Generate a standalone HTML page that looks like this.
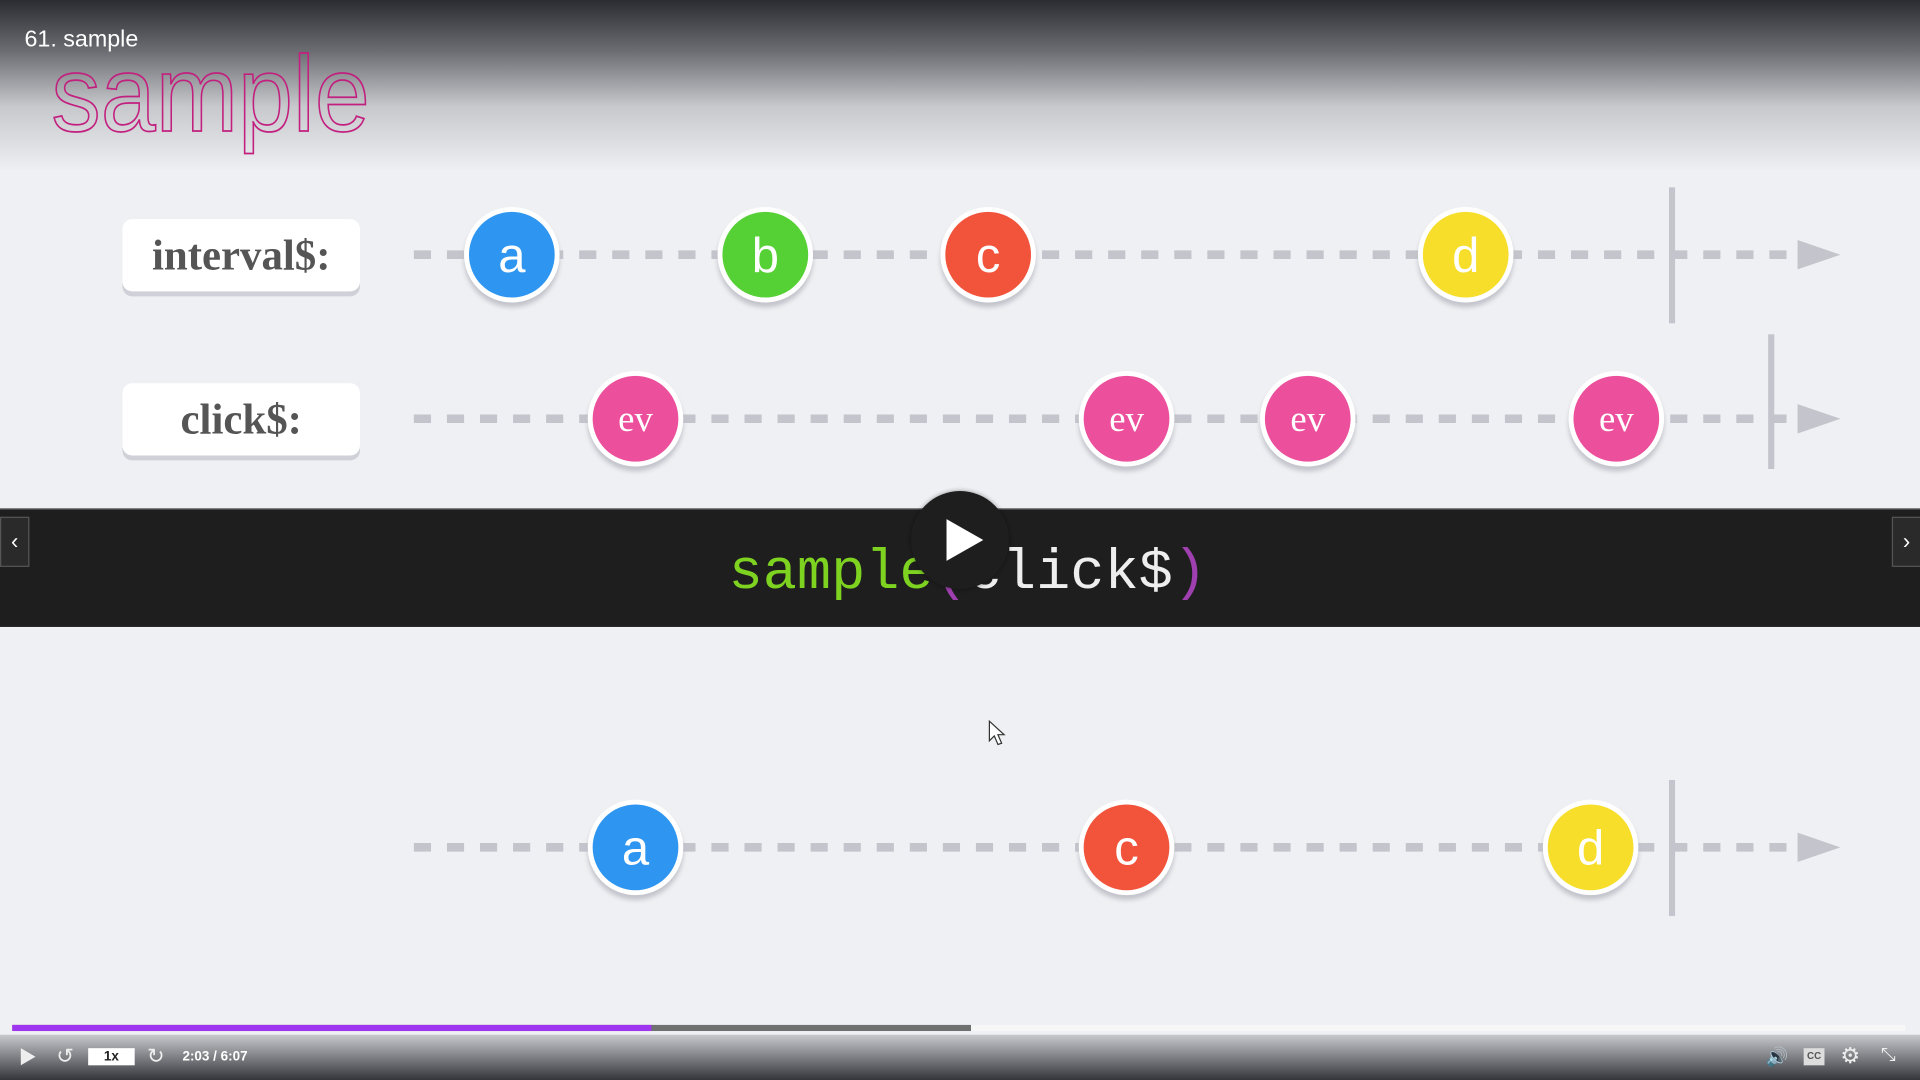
<!DOCTYPE html>
<html><head><meta charset="utf-8"><style>
html,body{margin:0;padding:0;width:1920px;height:1080px;overflow:hidden;background:#eff0f3}
#w{position:absolute;left:0;top:0;width:1568px;height:882px;transform:scale(1.22449);transform-origin:0 0;background:#eff0f3;font-family:"Liberation Sans",sans-serif}
.abs{position:absolute}
.lbl{position:absolute;left:100px;width:194px;height:59px;background:#fff;border-radius:8px;box-shadow:0 4px 0 #d0d1d8;font-family:"Liberation Serif",serif;font-weight:bold;color:#555;font-size:35px;text-align:center;line-height:59px}
</style></head><body><div id="w">
<div class="abs" style="left:0;top:0;width:1568px;height:140px;background:linear-gradient(#2b2c31 0%,#6c6d72 30%,#c7c8cc 62%,#eff0f3 100%)"></div>
<div class="abs" style="left:20px;top:22px;color:#fff;font-size:19px">61. sample</div>
<svg class="abs" style="left:0;top:0" width="1568" height="882">
<text x="42" y="107" font-family="Liberation Sans" font-size="88" textLength="260" lengthAdjust="spacingAndGlyphs" fill="none" stroke="#c2207f" stroke-width="1.4">sample</text>
<g stroke="#c3c4cc" stroke-width="7" stroke-dasharray="14 13">
<line x1="338" y1="208" x2="1468" y2="208"/><line x1="338" y1="342" x2="1468" y2="342"/><line x1="338" y1="692" x2="1468" y2="692"/></g>
<g fill="#c3c4cc"><polygon points="1468,196 1503,208 1468,220"/><polygon points="1468,330 1503,342 1468,354"/><polygon points="1468,680 1503,692 1468,704"/>
<rect x="1363" y="153" width="5" height="111"/><rect x="1444" y="273" width="5" height="110"/><rect x="1363" y="637" width="5" height="111"/></g>
<defs><filter id="s" x="-30%" y="-30%" width="160%" height="170%"><feDropShadow dx="0" dy="4" stdDeviation="2" flood-color="#b8b9c2" flood-opacity="0.8"/></filter></defs>
<g stroke="#fff" stroke-width="4" filter="url(#s)">
<circle cx="418" cy="208" r="37" fill="#2f96f1"/><circle cx="625" cy="208" r="37" fill="#55d136"/><circle cx="807" cy="208" r="37" fill="#f2533b"/><circle cx="1197" cy="208" r="37" fill="#f6de29"/>
<circle cx="519" cy="342" r="37" fill="#ec4f9c"/><circle cx="920" cy="342" r="37" fill="#ec4f9c"/><circle cx="1068" cy="342" r="37" fill="#ec4f9c"/><circle cx="1320" cy="342" r="37" fill="#ec4f9c"/>
<circle cx="519" cy="692" r="37" fill="#2f96f1"/><circle cx="920" cy="692" r="37" fill="#f2533b"/><circle cx="1299" cy="692" r="37" fill="#f6de29"/></g>
<g fill="#fff" font-family="Liberation Sans" text-anchor="middle" font-size="40">
<text x="418" y="222">a</text><text x="625" y="222">b</text><text x="807" y="222">c</text><text x="1197" y="222">d</text>
<text x="519" y="706">a</text><text x="920" y="706">c</text><text x="1299" y="706">d</text>
<g font-size="30" font-family="Liberation Serif"><text x="519" y="352">ev</text><text x="920" y="352">ev</text><text x="1068" y="352">ev</text><text x="1320" y="352">ev</text></g></g>
</svg>
<div class="lbl" style="top:179px">interval$:</div>
<div class="lbl" style="top:313px">click$:</div>
<div class="abs" style="left:0;top:415px;width:1568px;height:96px;background:#1e1e1e;border-top:1px solid #888"></div>
<div class="abs" style="left:595px;top:438px;font-family:'Liberation Mono',monospace;font-size:46.5px;line-height:60px;color:#eee;white-space:pre"><span style="color:#7ed321">sample</span><span style="color:#a040b0">(</span>click$<span style="color:#a040b0">)</span></div>
<div class="abs" style="left:744px;top:401px;width:80px;height:80px;border-radius:50%;background:#1e1e1e;box-shadow:0 0 4px rgba(0,0,0,.4)"></div>
<div class="abs" style="left:773px;top:424px;width:0;height:0;border-left:30px solid #fff;border-top:17px solid transparent;border-bottom:17px solid transparent"></div>
<div class="abs" style="left:0;top:422px;width:22px;height:39px;background:#2a2a2a;border:1px solid #555;color:#fff;font-size:18px;line-height:39px;text-align:center">‹</div>
<div class="abs" style="left:1545px;top:422px;width:22px;height:39px;background:#2a2a2a;border:1px solid #555;color:#fff;font-size:18px;line-height:39px;text-align:center">›</div>
<svg class="abs" style="left:807px;top:588px" width="16" height="24"><polygon points="1,1 1,17 5,13 8,20 11,19 8,12 13,12" fill="#fff" stroke="#333" stroke-width="1"/></svg>
<div class="abs" style="left:0;top:845px;width:1568px;height:37px;background:linear-gradient(#c8c9cd,#34353a)"></div>
<div class="abs" style="left:10px;top:837px;width:1546px;height:5px;background:#f7f7f7"></div>
<div class="abs" style="left:10px;top:837px;width:783px;height:5px;background:#6f7070"></div>
<div class="abs" style="left:10px;top:837px;width:522px;height:5px;background:#a035f0"></div>
<div class="abs" style="left:17px;top:856px;width:0;height:0;border-left:12px solid #eee;border-top:7px solid transparent;border-bottom:7px solid transparent"></div>
<div class="abs" style="left:46px;top:853px;color:#eee;font-size:17px">↺</div>
<div class="abs" style="left:72px;top:856px;width:38px;height:14px;background:#fff;color:#222;font-size:11px;font-weight:bold;text-align:center;line-height:14px">1x</div>
<div class="abs" style="left:120px;top:853px;color:#eee;font-size:17px">↻</div>
<div class="abs" style="left:149px;top:857px;color:#fff;font-size:11px;font-weight:bold">2:03 / 6:07</div>
<div class="abs" style="left:1442px;top:854px;color:#eee;font-size:15px">🔊</div>
<div class="abs" style="left:1473px;top:856px;width:17px;height:14px;background:#ddd;color:#555;font-size:8px;font-weight:bold;text-align:center;line-height:14px">CC</div>
<div class="abs" style="left:1503px;top:852px;color:#eee;font-size:18px">⚙</div>
<div class="abs" style="left:1536px;top:853px;color:#eee;font-size:15px">⤡</div>
</div></body></html>
